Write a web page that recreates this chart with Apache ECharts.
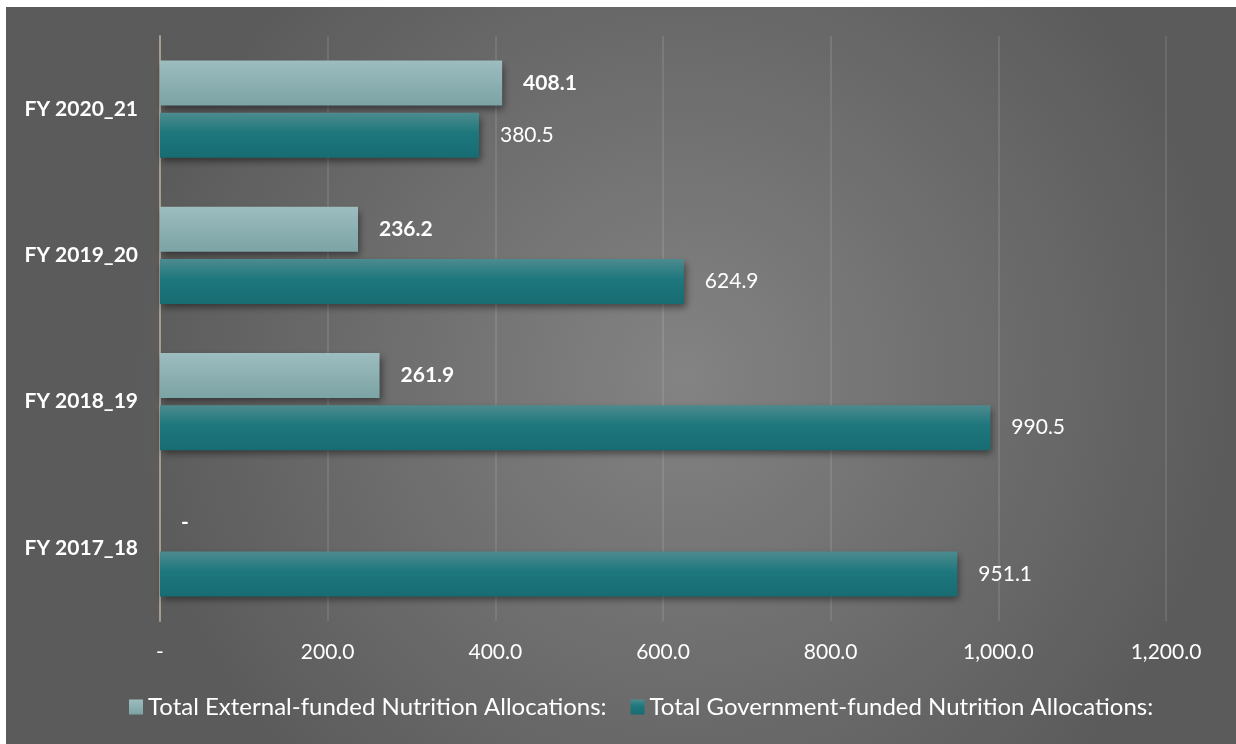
<!DOCTYPE html>
<html>
<head>
<meta charset="utf-8">
<script src="https://cdn.jsdelivr.net/npm/echarts@6/dist/echarts.min.js"></script>
<style>
    html, body { margin: 0; padding: 0; background: #ffffff; }
    #chart { position: absolute; left: 6px; top: 7px; width: 1230px; height: 737px; }
</style>
</head>
<body>
<div id="chart"></div>
<script>
// data (top category first, axis is inverted)
var years = ['FY 2020_21', 'FY 2019_20', 'FY 2018_19', 'FY 2017_18'];
var externalVals = [408.1, 236.2, 261.9, 0];
var governmentVals = [380.5, 624.9, 990.5, 951.1];
var seriesNames = ['Total External-funded Nutrition Allocations:', 'Total Government-funded Nutrition Allocations:'];

var FONT = 'Lato';

function fmt(v) {
    if (v === 0) return '-';
    return v.toLocaleString('en-US', {minimumFractionDigits: 1, maximumFractionDigits: 1});
}

var chart = echarts.init(document.getElementById('chart'));

var lightGrad = new echarts.graphic.LinearGradient(0, 0, 0, 1, [
    {offset: 0, color: '#9dbdbf'},
    {offset: 1, color: '#7ca3a5'}
]);
var darkGrad = new echarts.graphic.LinearGradient(0, 0, 0, 1, [
    {offset: 0, color: '#4d8b8f'},
    {offset: 0.45, color: '#1d777c'},
    {offset: 1, color: '#176c72'}
]);

function barLabel(bold) {
    return {
        show: true,
        position: ['100%', '50%'],
        align: 'left',
        verticalAlign: 'middle',
        offset: [21, 0],
        color: '#ffffff',
        fontFamily: FONT,
        fontWeight: bold ? 'bold' : 'normal',
        fontSize: 21,
        formatter: function (p) { return fmt(p.value); }
    };
}

var option = {
    backgroundColor: new echarts.graphic.RadialGradient(0.55, 0.5, 0.75, [
        {offset: 0, color: '#838383'},
        {offset: 1, color: '#5b5b5b'}
    ]),
    animation: false,
    grid: {
        left: 154,
        right: 70,
        top: 29,
        bottom: 123,
        containLabel: false
    },
    legend: {
        data: seriesNames,
        top: 683,
        left: 118,
        itemWidth: 14,
        itemHeight: 15,
        itemGap: 24,
        icon: 'rect',
        textStyle: {
            color: '#ffffff',
            fontFamily: FONT,
            fontSize: 24
        }
    },
    xAxis: {
        type: 'value',
        min: 0,
        max: 1200,
        interval: 200,
        axisLine: {show: false},
        axisTick: {show: false},
        splitLine: {
            show: true,
            lineStyle: {color: 'rgba(255,255,255,0.1)', width: 2}
        },
        axisLabel: {
            color: '#ffffff',
            fontFamily: FONT,
            fontSize: 21,
            margin: 21,
            formatter: fmt
        }
    },
    yAxis: {
        type: 'category',
        inverse: true,
        data: years,
        axisLine: {
            show: true,
            lineStyle: {color: '#a89c8f', width: 2}
        },
        axisTick: {show: false},
        axisLabel: {
            color: '#ffffff',
            fontFamily: FONT,
            fontWeight: 'bold',
            fontSize: 21,
            margin: 22
        }
    },
    series: [
        {
            name: seriesNames[0],
            type: 'bar',
            data: externalVals,
            barWidth: 45,
            barGap: '16%',
            itemStyle: {
                color: lightGrad,
                shadowColor: 'rgba(0,0,0,0.45)',
                shadowBlur: 7,
                shadowOffsetX: 2,
                shadowOffsetY: 4
            },
            label: barLabel(true)
        },
        {
            name: seriesNames[1],
            type: 'bar',
            data: governmentVals,
            barWidth: 45,
            barGap: '16%',
            itemStyle: {
                color: darkGrad,
                shadowColor: 'rgba(0,0,0,0.45)',
                shadowBlur: 7,
                shadowOffsetX: 2,
                shadowOffsetY: 4
            },
            label: barLabel(false)
        }
    ]
};

chart.setOption(option);
</script>
</body>
</html>
